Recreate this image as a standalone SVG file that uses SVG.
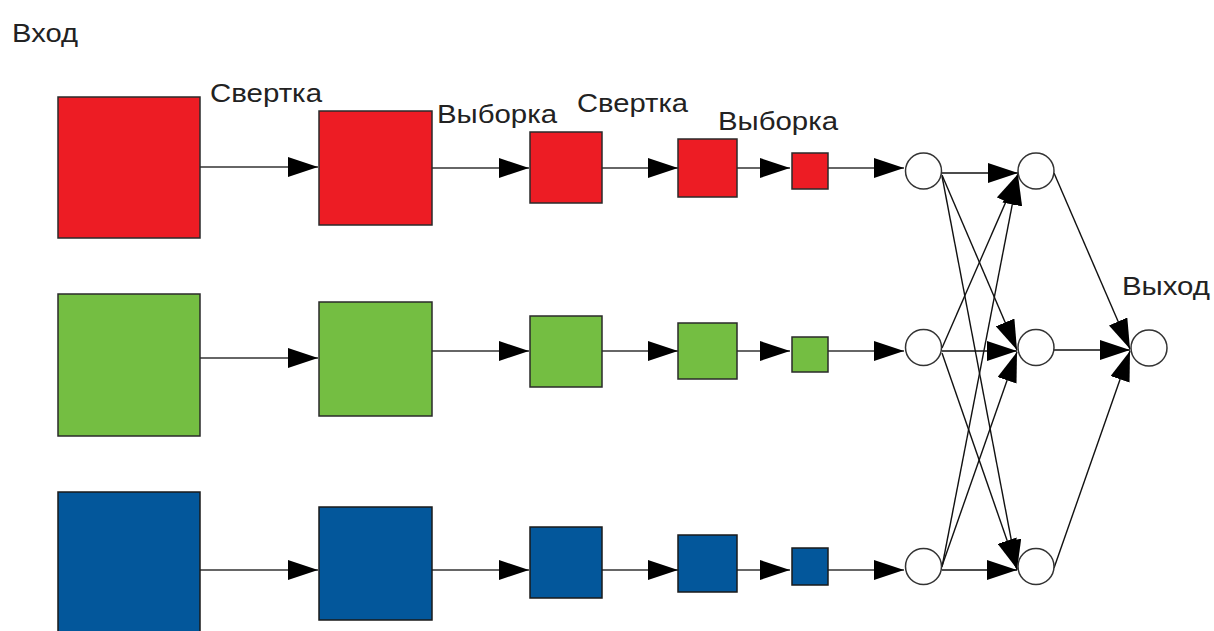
<svg xmlns="http://www.w3.org/2000/svg" width="1214" height="631" viewBox="0 0 1214 631">
  <defs>
    <marker id="arrow" viewBox="0 0 30 20" markerWidth="30" markerHeight="20" refX="30" refY="10" markerUnits="userSpaceOnUse" orient="auto">
      <path d="M0,0 L30,10 L0,20 Z" fill="#000"/>
    </marker>
    <style>
      .lbl { font-family: "Liberation Sans", Arial, sans-serif; font-size: 25px; fill: #222; }
      .red { fill: #ED1C24; stroke: #2a2a2a; stroke-width: 1.5; }
      .green { fill: #74BE42; stroke: #2a2a2a; stroke-width: 1.5; }
      .blue { fill: #03579B; stroke: #1a1a1a; stroke-width: 1.5; }
      .neuron { fill: #fff; stroke: #333; stroke-width: 1.5; }
      .link { stroke: #333; stroke-width: 1.6; fill: none; marker-end: url(#arrow); }
      .net { stroke: #111; stroke-width: 1.4; fill: none; marker-end: url(#arrow); }
    </style>
  </defs>

  <rect width="1214" height="631" fill="#fff"/>

  <!-- labels -->
  <g id="labels">
    <text class="lbl" x="12" y="42" textLength="66" lengthAdjust="spacingAndGlyphs">Вход</text>
    <text class="lbl" x="210" y="102" textLength="112" lengthAdjust="spacingAndGlyphs">Свертка</text>
    <text class="lbl" x="437" y="123" textLength="120" lengthAdjust="spacingAndGlyphs">Выборка</text>
    <text class="lbl" x="577" y="112" textLength="111" lengthAdjust="spacingAndGlyphs">Свертка</text>
    <text class="lbl" x="718" y="130" textLength="120" lengthAdjust="spacingAndGlyphs">Выборка</text>
    <text class="lbl" x="1122" y="295" textLength="88" lengthAdjust="spacingAndGlyphs">Выход</text>
  </g>

  <!-- connectors -->
  <g id="connectors">
    <!-- red chain -->
    <line class="link" x1="200" y1="167" x2="318" y2="167"/>
    <line class="link" x1="432" y1="168" x2="529" y2="168"/>
    <line class="link" x1="602" y1="168" x2="678" y2="168"/>
    <line class="link" x1="737" y1="168" x2="790" y2="168"/>
    <line class="link" x1="828" y1="168" x2="904" y2="168"/>
    <!-- green chain -->
    <line class="link" x1="200" y1="358" x2="318" y2="358"/>
    <line class="link" x1="432" y1="351" x2="529" y2="351"/>
    <line class="link" x1="602" y1="351" x2="678" y2="351"/>
    <line class="link" x1="737" y1="351" x2="790" y2="351"/>
    <line class="link" x1="828" y1="351" x2="904" y2="351"/>
    <!-- blue chain -->
    <line class="link" x1="200" y1="570" x2="318" y2="570"/>
    <line class="link" x1="432" y1="570" x2="529" y2="570"/>
    <line class="link" x1="602" y1="570" x2="678" y2="570"/>
    <line class="link" x1="737" y1="570" x2="790" y2="570"/>
    <line class="link" x1="828" y1="570" x2="904" y2="570"/>

    <!-- first layer to hidden layer -->
    <line class="net" x1="942" y1="173" x2="1018" y2="173"/>
    <line class="net" x1="942" y1="175" x2="1017" y2="350"/>
    <line class="net" x1="942" y1="176" x2="1017" y2="570"/>
    <line class="net" x1="942" y1="348" x2="1018" y2="174"/>
    <line class="net" x1="942" y1="351" x2="1017" y2="351"/>
    <line class="net" x1="942" y1="353" x2="1017" y2="569"/>
    <line class="net" x1="942" y1="567" x2="1018" y2="175"/>
    <line class="net" x1="942" y1="566" x2="1017" y2="352"/>
    <line class="net" x1="942" y1="570" x2="1017" y2="570"/>

    <!-- hidden layer to output -->
    <line class="net" x1="1054" y1="173" x2="1130" y2="349"/>
    <line class="net" x1="1054" y1="350" x2="1130" y2="350"/>
    <line class="net" x1="1054" y1="568" x2="1130" y2="351"/>
  </g>

  <!-- red branch -->
  <g id="red-input"><rect class="red" x="58" y="97" width="142" height="141"/></g>
  <g id="red-conv1"><rect class="red" x="319" y="111" width="113" height="114"/></g>
  <g id="red-pool1"><rect class="red" x="530" y="132" width="72" height="71"/></g>
  <g id="red-conv2"><rect class="red" x="678" y="139" width="59" height="58"/></g>
  <g id="red-pool2"><rect class="red" x="792" y="153" width="36" height="36"/></g>

  <!-- green branch -->
  <g id="green-input"><rect class="green" x="58" y="294" width="142" height="142"/></g>
  <g id="green-conv1"><rect class="green" x="319" y="302" width="113" height="114"/></g>
  <g id="green-pool1"><rect class="green" x="530" y="316" width="72" height="71"/></g>
  <g id="green-conv2"><rect class="green" x="678" y="323" width="59" height="56"/></g>
  <g id="green-pool2"><rect class="green" x="792" y="337" width="36" height="35"/></g>

  <!-- blue branch -->
  <g id="blue-input"><rect class="blue" x="58" y="492" width="142" height="142"/></g>
  <g id="blue-conv1"><rect class="blue" x="319" y="507" width="113" height="113"/></g>
  <g id="blue-pool1"><rect class="blue" x="530" y="527" width="72" height="71"/></g>
  <g id="blue-conv2"><rect class="blue" x="678" y="535" width="59" height="57"/></g>
  <g id="blue-pool2"><rect class="blue" x="792" y="548" width="36" height="37"/></g>

  <!-- fully connected neurons -->
  <g id="n1-top"><circle class="neuron" cx="923.5" cy="171" r="18"/></g>
  <g id="n1-mid"><circle class="neuron" cx="923.5" cy="347.5" r="18"/></g>
  <g id="n1-bot"><circle class="neuron" cx="923.5" cy="566.5" r="18"/></g>
  <g id="n2-top"><circle class="neuron" cx="1036" cy="171" r="18"/></g>
  <g id="n2-mid"><circle class="neuron" cx="1036" cy="347.5" r="18"/></g>
  <g id="n2-bot"><circle class="neuron" cx="1036" cy="566.5" r="18"/></g>
  <g id="output"><circle class="neuron" cx="1149" cy="348" r="18"/></g>
</svg>
